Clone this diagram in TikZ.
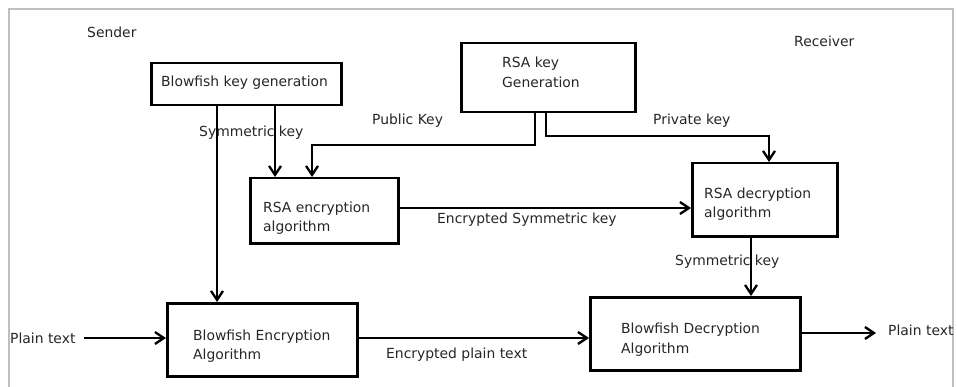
\documentclass[tikz,border=0pt]{standalone}
\usepackage{fontspec}
\setmainfont{DejaVu Sans}
\usetikzlibrary{arrows.meta}
\begin{document}
\begin{tikzpicture}[x=1pt,y=-1pt,
  box/.style={draw,line width=2.5pt,inner sep=0,anchor=north west},
  lbl/.style={inner sep=0,anchor=base west,font=\fontsize{13.9}{19.5}\selectfont,text=black!85},
  arr/.style={line width=2.3pt,-{Straight Barb[length=9pt,width=12pt]}},
  frame/.style={draw=black!25,line width=1.2pt}]
\useasboundingbox (0,0) rectangle (957,387);
% outer frame
\draw[frame] (9,387) -- (9,9) -- (953,9) -- (953,387);

% boxes
\node[box,minimum width=190pt,minimum height=42pt] (bkg)  at (150,62)  {};
\node[box,minimum width=174pt,minimum height=69pt] (rkg)  at (460,42)  {};
\node[box,minimum width=148pt,minimum height=65pt] (renc) at (249,177) {};
\node[box,minimum width=145pt,minimum height=73pt] (rdec) at (691,162) {};
\node[box,minimum width=190pt,minimum height=73pt] (benc) at (166,302) {};
\node[box,minimum width=210pt,minimum height=73pt] (bdec) at (589,296) {};

% texts
\node[lbl] (sender)   at (87,37.5) {Sender};
\node[lbl] (receiver) at (794,47)  {Receiver};
\node[lbl] (bkgt)     at (161,87)  {Blowfish key generation};
\node[lbl] (rkgt)     at (502,68)  {RSA key};
\node[lbl] (rkgu)     at (502,88)  {Generation};
\node[lbl] (renct)    at (263,212) {RSA encryption};
\node[lbl] (rencu)    at (263,231) {algorithm};
\node[lbl] (rdect)    at (704,199) {RSA decryption};
\node[lbl] (rdecu)    at (704,218) {algorithm};
\node[lbl] (benct)    at (193,340) {Blowfish Encryption};
\node[lbl] (bencu)    at (193,359) {Algorithm};
\node[lbl] (bdect)    at (621,333) {Blowfish Decryption};
\node[lbl] (bdecu)    at (621,353) {Algorithm};
\node[lbl] (symL)     at (199,137) {Symmetric key};
\node[lbl] (pub)      at (372,125) {Public Key};
\node[lbl] (prv)      at (653,125) {Private key};
\node[lbl] (eskt)     at (437,223) {Encrypted Symmetric key};
\node[lbl] (symR)     at (675,265) {Symmetric key};
\node[lbl] (ptin)     at (10,343)  {Plain text};
\node[lbl] (ept)      at (386,358) {Encrypted plain text};
\node[lbl] (ptout)    at (888,335) {Plain text};

% helper positions for connector columns and rows
\coordinate (k1) at (217,0);
\coordinate (k2) at (275,0);
\coordinate (pubx) at (535,145);
\coordinate (pubin) at (312,0);
\coordinate (prvx) at (546,136);
\coordinate (prvin) at (769,0);
\coordinate (eskrow) at (0,208);
\coordinate (skx) at (751,0);
\coordinate (row1) at (0,338);
\coordinate (row2) at (0,333);

% connectors
\draw[arr] (bkg.south -| k1) -- (benc.north -| k1);
\draw[arr] (bkg.south -| k2) -- (renc.north -| k2);
\draw[arr] (rkg.south -| pubx) -- (pubx) -| (renc.north -| pubin);
\draw[arr] (rkg.south -| prvx) -- (prvx) -| (rdec.north -| prvin);
\draw[arr] (renc.east |- eskrow) -- (rdec.west |- eskrow);
\draw[arr] (rdec.south -| skx) -- (bdec.north -| skx);
\draw[arr,shorten <=8pt] (ptin.east |- row1) -- (benc.west |- row1);
\draw[arr] (benc.east |- row1) -- (bdec.west |- row1);
\draw[arr,shorten >=12pt] (bdec.east |- row2) -- (ptout.west |- row2);
\end{tikzpicture}
\end{document}
